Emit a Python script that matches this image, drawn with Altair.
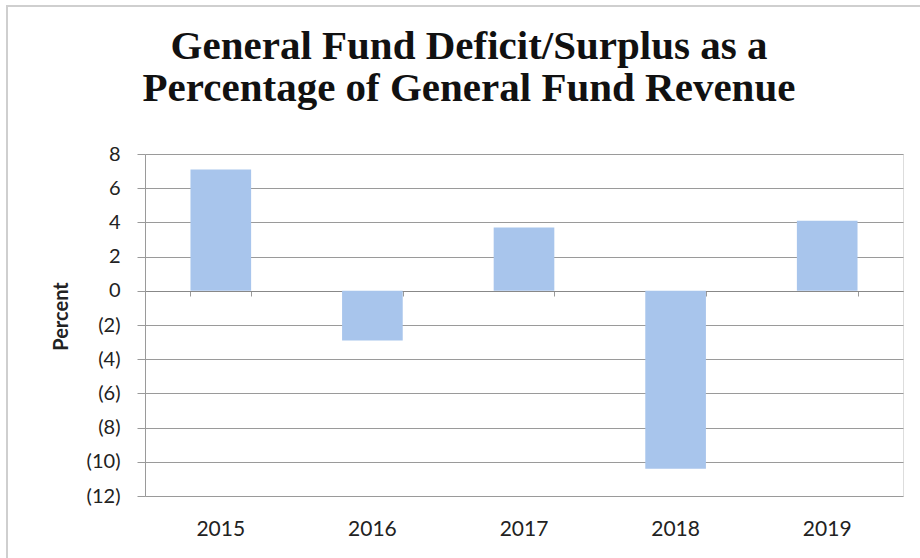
import altair as alt
import pandas as pd

years = ["2015", "2016", "2017", "2018", "2019"]
values = [7.1, -2.9, 3.7, -10.4, 4.1]
y_ticks = [8, 6, 4, 2, 0, -2, -4, -6, -8, -10, -12]
title_lines = ["General Fund Deficit/Surplus as a", "Percentage of General Fund Revenue"]

df = pd.DataFrame({"year": years, "value": values})

label_font = "Lato"
text_color = "#222222"
grid_color = "#9a9a9a"

x_scale = alt.Scale(paddingInner=0.6, paddingOuter=0.3)
y_scale = alt.Scale(domain=[-12, 8], nice=False)

y_enc = alt.Y("value:Q", scale=y_scale,
              axis=alt.Axis(title="Percent", values=y_ticks,
                            labelExpr="datum.value < 0 ? '(' + abs(datum.value) + ')' : datum.value",
                            labelFont=label_font, labelFontSize=20, labelColor=text_color,
                            labelPadding=17, tickSize=8, tickColor=grid_color,
                            domainColor=grid_color, gridColor=grid_color, gridWidth=1,
                            titleFont=label_font, titleFontSize=20, titleFontWeight="bold",
                            titleColor=text_color, titlePadding=15, titleY=162))

bars = alt.Chart(df).mark_bar(color="#A8C5EC").encode(
    x=alt.X("year:N", sort=years, scale=x_scale,
            axis=alt.Axis(title=None, orient="bottom", ticks=False, domain=False,
                          grid=False, labelAngle=0, labelFont=label_font,
                          labelFontSize=21, labelColor=text_color, labelPadding=22)),
    y=y_enc,
)

zero_axis = alt.Chart(df).mark_bar(opacity=0).encode(
    x=alt.X("year:N", sort=years, scale=x_scale,
            axis=alt.Axis(title=None, orient="bottom", offset=-205, labels=False,
                          ticks=True, tickBand="extent", tickSize=5, tickColor=grid_color,
                          domain=True, domainColor="#888888", grid=False)),
    y=y_enc,
)

border = alt.Chart(df).mark_rect(fill=None, stroke="#cfcfcf", strokeWidth=2).encode(
    x=alt.value(-138), x2=alt.value(790), y=alt.value(-148), y2=alt.value(420)
)

chart = alt.layer(border, bars, zero_axis).resolve_scale(x="independent").properties(
    width=758, height=342,
    autosize=alt.AutoSizeParams(type="none"),
    padding={"left": 145, "top": 154, "right": 17, "bottom": 62},
    title=alt.TitleParams(text=title_lines, font="Liberation Serif", fontSize=41,
                          fontWeight="bold", color="#111111", anchor="middle",
                          lineHeight=42, dx=-55, offset=-105),
).configure_view(stroke=None).configure(background="white")

chart.save("out.html", embed_options={"renderer": "svg", "actions": False})
